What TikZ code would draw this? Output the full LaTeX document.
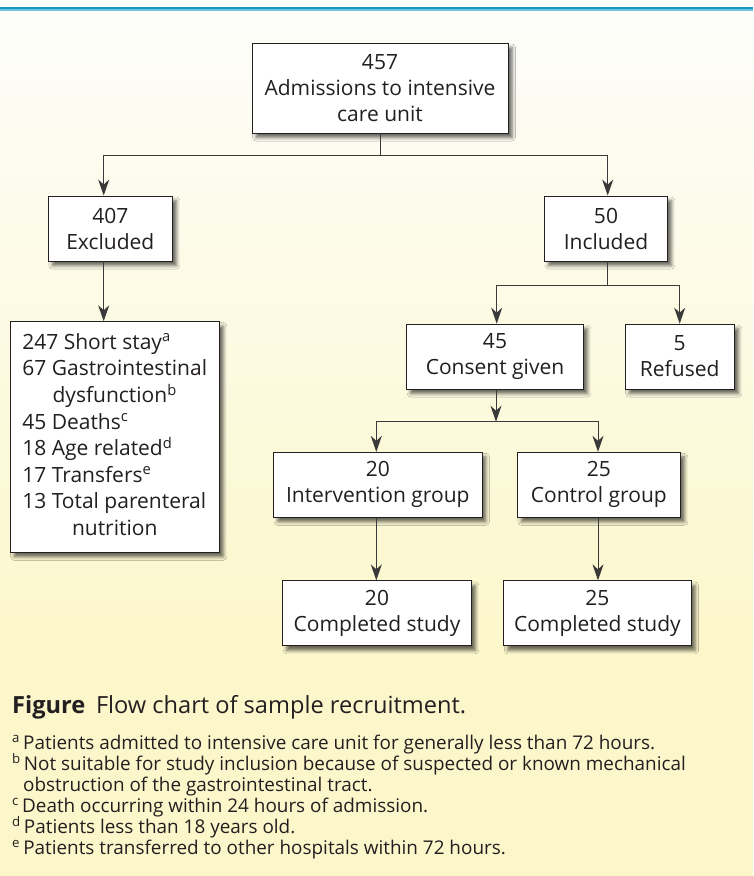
\documentclass[tikz,border=0pt]{standalone}
\usepackage{fontspec}
\setmainfont{Open Sans}
\usetikzlibrary{arrows.meta,shadows.blur,calc}
\definecolor{bgT}{HTML}{FDFDFA}
\definecolor{bgB}{HTML}{FCF7CB}
\definecolor{blueD}{HTML}{1F93C6}
\definecolor{blueL}{HTML}{6CC6E6}
\definecolor{ink}{HTML}{231F20}
\definecolor{lineC}{HTML}{3A3A3A}
\tikzset{
  box/.style={draw=ink, fill=white, line width=0.9pt, inner sep=0pt, align=center,
    text=ink, font=\fontsize{21}{26}\selectfont,
    blur shadow={shadow xshift=4pt, shadow yshift=-4.5pt, shadow blur radius=3.5pt, shadow opacity=60}},
  ln/.style={draw=lineC, line width=1pt},
  arr/.style={ln, -{Stealth[length=16pt,width=11pt,inset=5pt]}},
  foot/.style={anchor=base west, inner sep=0pt, text=ink, font=\fontsize{18.9}{21}\selectfont},
}
\begin{document}
\begin{tikzpicture}[x=1pt,y=-1pt]
\useasboundingbox (0,0) rectangle (753,876);
% background
\fill[white] (0,0) rectangle (753,10);
\shade[top color=bgT, bottom color=bgB] (0,10) rectangle (753,650);
\fill[bgB] (0,650) rectangle (753,876);
\draw[blueD, line width=2.2pt] (0,7.8) -- (753,7.8);
\draw[blueL, line width=1.2pt] (0,9.9) -- (753,9.9);

% boxes
\node[box, minimum width=256pt, minimum height=90pt] (top) at (380,88) {457\\Admissions to intensive\\care unit};
\node[box, minimum width=124pt, minimum height=65pt] (excl) at (110.3,228.5) {407\\Excluded};
\node[box, minimum width=122.6pt, minimum height=65pt] (incl) at (606,228.5) {50\\Included};
\node[box, minimum width=209.3pt, minimum height=230.6pt, font=\fontsize{21}{26.5}\selectfont] (list) at (114.7,437) {%
\begin{tabular}{@{}l@{}}
247 Short stay\textsuperscript{a}\\
67 Gastrointestinal\\
\multicolumn{1}{@{}c@{}}{dysfunction\textsuperscript{b}}\\
45 Deaths\textsuperscript{c}\\
18 Age related\textsuperscript{d}\\
17 Transfers\textsuperscript{e}\\
13 Total parenteral\\
\multicolumn{1}{@{}c@{}}{nutrition}
\end{tabular}};
\node[box, minimum width=176.6pt, minimum height=65pt] (consent) at (495,356.6) {45\\Consent given};
\node[box, minimum width=109.3pt, minimum height=65pt] (refused) at (679.7,356.6) {5\\Refused};
\node[box, minimum width=208.3pt, minimum height=65pt] (interv) at (377.8,484.8) {20\\Intervention group};
\node[box, minimum width=163pt, minimum height=65pt] (control) at (598.8,484.8) {25\\Control group};
\node[box, minimum width=188.6pt, minimum height=65pt] (comp1) at (377,613.3) {20\\Completed study};
\node[box, minimum width=187.3pt, minimum height=65pt] (comp2) at (597.4,613.3) {25\\Completed study};

% junctions
\coordinate (j1) at (380,155);
\coordinate (j2) at (607.7,285);
\coordinate (j3) at (496,421.7);

% connectors
\draw[ln] (top.south) -- (j1);
\draw[arr] (j1) -| ([xshift=-6.6pt]excl.north);
\draw[arr] (j1) -| ([xshift=1.7pt]incl.north);
\draw[arr] ([xshift=-6.6pt]excl.south) -- ([xshift=-6.6pt]excl.south |- list.north);
\draw[ln] ([xshift=1.7pt]incl.south) -- (j2);
\draw[arr] (j2) -| ([xshift=1.7pt]consent.north);
\draw[arr] (j2) -| (refused.north);
\draw[arr] ([xshift=1pt]consent.south) -- (j3);
\draw[arr] (j3) -| ([xshift=-1.5pt]interv.north);
\draw[arr] (j3) -| ([xshift=-0.8pt]control.north);
\draw[arr] ([xshift=-1.5pt]interv.south) -- ([xshift=-1.5pt]interv.south |- comp1.north);
\draw[arr] ([xshift=-0.8pt]control.south) -- ([xshift=-0.8pt]control.south |- comp2.north);

% caption and footnotes
\node[foot, font=\fontsize{23.6}{26}\selectfont] (cap) at (12,713) {\textbf{Figure}\hspace{0.45em}Flow chart of sample recruitment.};
\node[foot] (fa) at (12,749) {\textsuperscript{a}\,Patients admitted to intensive care unit for generally less than 72 hours.};
\node[foot] (fb) at (12,770) {\textsuperscript{b}\,Not suitable for study inclusion because of suspected or known mechanical};
\node[foot] (fb2) at (23,791) {obstruction of the gastrointestinal tract.};
\node[foot] (fc) at (12,812) {\textsuperscript{c}\,Death occurring within 24 hours of admission.};
\node[foot] (fd) at (12,833) {\textsuperscript{d}\,Patients less than 18 years old.};
\node[foot] (fe) at (12,854) {\textsuperscript{e}\,Patients transferred to other hospitals within 72 hours.};
\end{tikzpicture}
\end{document}
